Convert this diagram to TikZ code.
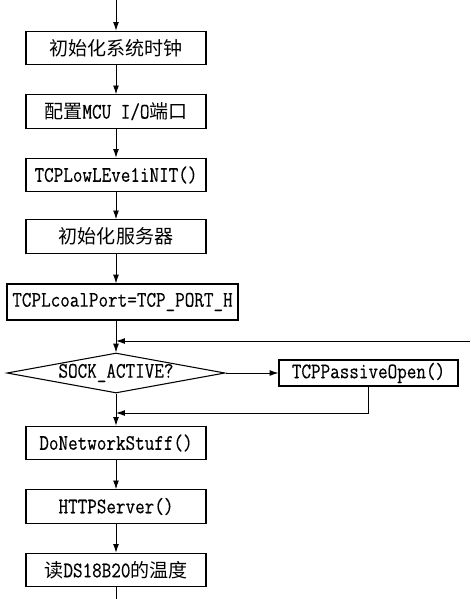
\documentclass[tikz,border=0pt]{standalone}
\usepackage{fontspec}
\setmonofont[FakeBold=0.3,FakeStretch=0.84]{Latin Modern Mono}
\newfontfamily\cjk[Scale=0.86]{Noto Sans CJK SC}
\usetikzlibrary{shapes.geometric,arrows.meta}

\begin{document}
\begin{tikzpicture}[x=0.03cm,y=-0.03cm]
\tikzstyle{box}=[draw,line width=0.9pt,minimum width=5.4cm,minimum height=1cm,inner sep=0pt,font=\fontsize{18.9}{21}\ttfamily]
\tikzstyle{test}=[draw,diamond,line width=0.9pt,aspect=5.45,minimum width=6.54cm,minimum height=1.2cm,inner sep=0pt,font=\fontsize{18.9}{21}\ttfamily]
\tikzstyle{line}=[line width=0.8pt]
\tikzstyle{arrow}=[line width=0.8pt,-{Latex[length=7.5pt,width=5pt]}]

\useasboundingbox (0,0) rectangle (470,599);

\coordinate (start) at (116,0);
\node(clk)  [box] at (116,48) {\cjk 初始化系统时钟};
\node(io)   [box] at (116,111.5) {{\cjk 配置}MCU I/O{\cjk 端口}};
\node(low)  [box] at (116,175) {TCPLowLEve1iNIT()};
\node(srv)  [box] at (116,236.5) {\cjk 初始化服务器};
\node(port) [box, minimum width=6.93cm, minimum height=1.08cm] at (122.5,302) {TCPLcoalPort=TCP\_PORT\_H};

\node(sock) [test] at (116,373) {SOCK\_ACTIVE?};
\node(open) [box, minimum width=5.37cm, minimum height=0.78cm] at (368.5,373) {TCPPassiveOpen()};

\node(net)  [box] at (116,443) {DoNetworkStuff()};
\node(http) [box] at (116,506.5) {HTTPServer()};
\node(temp) [box] at (116,570) {{\cjk 读}DS18B20{\cjk 的温度}};
\coordinate (end) at (116,599);

\draw[arrow] (start) -- (clk);
\draw[arrow] (clk) -- (io);
\draw[arrow] (io) -- (low);
\draw[arrow] (low) -- (srv);
\draw[arrow] (srv.south) -- (srv.south |- port.north);
\draw[arrow] (port.south -| sock) -- (sock.north);

% loop back from the end of the main loop
\coordinate (back) at (470,341);
\draw[arrow] (back) -- (back -| sock);

\draw[arrow] (sock.east) -- (open.west);
\coordinate (join) at (116,413);
\draw[arrow] (open.south) |- (join);
\draw[arrow] (sock.south) -- (net.north);

\draw[arrow] (net) -- (http);
\draw[arrow] (http) -- (temp);
\draw[line] (temp) -- (end);

\end{tikzpicture}
\end{document}
